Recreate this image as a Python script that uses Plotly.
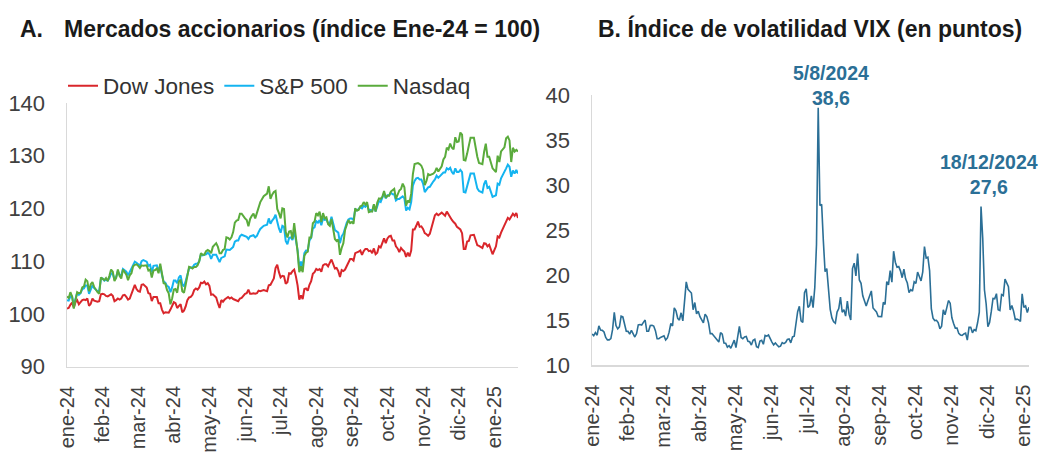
import pandas as pd
import plotly.graph_objects as go

# ---------------- data ----------------
holidays = ["2024-02-19", "2024-03-29", "2024-05-27", "2024-06-19", "2024-07-04",
            "2024-09-02", "2024-11-28", "2024-12-25", "2025-01-01", "2025-01-09",
            "2025-01-20"]
weekdays = pd.bdate_range("2024-01-25", "2025-01-31")
trading = weekdays[~weekdays.isin(pd.to_datetime(holidays))]

month_abbr = ["ene", "feb", "mar", "abr", "may", "jun", "jul", "ago", "sep", "oct", "nov", "dic"]

# Índices (Ene-24 = 100), one value per trading day
dow = [
    101.0, 101.1, 101.7, 102.1, 101.2,
    102.2, 102.6, 101.8, 102.2, 102.6, 102.7, 102.6, 102.9, 101.5, 101.9, 102.9, 102.5, 102.3, 102.4, 103.7, 103.8, 103.7, 103.4, 103.3, 103.5,
    103.7, 103.4, 102.4, 102.6, 102.9, 102.7, 102.9, 103.5, 103.6, 103.2, 102.7, 102.9, 103.8, 104.8, 105.5, 104.7, 104.3, 104.2, 105.5, 105.6,
    105.0, 103.9, 103.8, 102.4, 103.2, 103.2, 103.2, 102.0, 102.0, 100.8, 100.1, 100.3, 100.2, 100.2, 100.8, 101.5, 102.2, 102.0, 101.1, 101.5, 101.8, 100.3,
    100.6, 101.4, 102.6, 103.1, 103.2, 103.6, 104.5, 104.8, 104.6, 105.0, 105.9, 105.8, 106.1, 105.6, 105.8, 105.3, 103.6, 103.7, 103.1, 102.0, 101.1, 102.6,
    102.3, 102.7, 103.0, 103.2, 102.9, 103.1, 102.8, 102.7, 102.5, 102.4, 102.9, 103.0, 103.8, 103.9, 104.6, 103.8, 103.8, 103.9, 103.8,
    103.9, 104.4, 104.3, 104.5, 104.4, 104.3, 105.4, 105.5, 106.1, 106.7, 108.7, 109.3, 107.9, 106.9, 107.2, 107.1, 105.7, 106.0, 107.7, 107.6, 108.1, 108.4,
    107.1, 105.4, 102.7, 103.5, 102.8, 104.7, 104.8, 104.4, 105.5, 106.2, 107.6, 107.9, 108.5, 108.3, 108.5, 108.0, 109.2, 109.4, 109.4, 109.0, 109.7, 110.3,
    108.6, 108.7, 108.1, 107.0, 108.3, 108.1, 108.4, 109.0, 109.8, 110.4, 110.4, 110.1, 111.5, 111.6, 111.8, 112.0, 111.2, 111.9, 112.3, 112.3,
    111.9, 112.0, 111.5, 112.4, 111.3, 111.6, 112.8, 112.6, 113.7, 114.3, 113.4, 114.3, 114.7, 114.8, 113.9, 113.9, 112.8, 112.4, 111.7, 112.5, 112.1, 111.8, 110.8,
    111.6, 110.9, 112.0, 116.0, 116.0, 116.7, 117.5, 116.5, 116.6, 116.1, 115.3, 115.1, 114.8, 115.2, 116.4, 117.5, 118.7, 119.0, 118.7, 119.2,
    118.8, 118.6, 119.4, 118.8, 118.4, 117.8, 117.4, 117.1, 116.5, 116.3, 116.0, 115.3, 112.3, 112.3, 113.7, 113.8, 114.9, 115.0, 114.1, 113.0, 112.9,
    112.5, 113.4, 113.3, 112.8, 113.1, 111.3, 112.2, 112.8, 114.7, 114.5, 115.4, 116.8, 117.2, 118.2, 117.9, 118.6, 119.0, 118.6, 119.1, 118.2,
]

sp500 = [
    102.6, 102.5, 103.3, 103.3, 101.6,
    102.9, 104.0, 103.6, 103.9, 104.7, 104.8, 105.4, 105.3, 103.8, 104.8, 105.4, 104.9, 104.3, 104.4, 106.6, 106.7, 106.3, 106.5, 106.3, 106.8,
    107.7, 107.6, 106.5, 107.0, 108.1, 107.4, 107.3, 108.5, 108.3, 108.0, 107.3, 108.0, 108.6, 109.5, 109.9, 109.7, 109.4, 109.1, 110.0, 110.2,
    109.9, 109.1, 109.3, 107.9, 109.1, 109.1, 109.2, 108.2, 109.0, 107.4, 106.1, 105.9, 105.3, 105.1, 104.1, 105.0, 106.3, 106.3, 105.8, 106.9, 107.3, 105.6,
    105.2, 106.2, 107.5, 108.6, 108.8, 108.8, 109.3, 109.5, 109.5, 110.0, 111.3, 111.1, 111.2, 111.3, 111.6, 111.3, 110.4, 111.2, 111.2, 110.4, 109.8, 110.6,
    110.8, 110.9, 112.2, 112.2, 112.1, 112.4, 112.7, 113.7, 113.9, 113.9, 114.7, 115.0, 114.7, 114.6, 114.2, 114.7, 114.8, 114.9, 114.5,
    114.8, 115.5, 116.1, 116.7, 116.8, 116.9, 118.1, 117.1, 117.7, 118.1, 118.8, 117.2, 116.2, 115.4, 116.7, 116.5, 113.8, 113.2, 114.4, 114.5, 114.0, 115.8,
    114.2, 112.1, 108.7, 109.9, 109.0, 111.5, 112.0, 112.0, 113.9, 114.4, 116.2, 116.4, 117.6, 117.3, 117.8, 116.8, 118.1, 117.8, 117.9, 117.2, 117.2, 118.4,
    115.9, 115.7, 115.4, 113.4, 114.7, 115.2, 116.4, 117.3, 117.9, 118.1, 118.1, 117.8, 119.8, 119.6, 119.9, 120.2, 120.0, 120.5, 120.3, 120.8,
    119.7, 119.7, 119.5, 120.6, 119.4, 120.6, 121.4, 121.2, 121.9, 122.9, 121.9, 122.5, 122.5, 123.0, 122.7, 122.7, 121.5, 121.8, 121.8, 122.1, 122.3, 121.9, 119.6,
    120.1, 119.8, 121.2, 124.3, 125.2, 125.7, 125.8, 125.5, 125.5, 124.7, 123.1, 123.6, 124.0, 124.1, 124.7, 125.1, 125.5, 126.2, 125.8, 126.5,
    126.8, 126.8, 127.6, 127.4, 127.7, 126.9, 126.5, 127.6, 126.9, 126.9, 127.3, 126.9, 123.1, 123.0, 124.3, 125.2, 126.6, 126.6, 125.2, 123.8, 123.3,
    123.0, 124.6, 125.3, 123.9, 124.1, 122.2, 122.4, 122.5, 124.7, 124.5, 125.7, 126.8, 127.6, 128.3, 127.9, 126.0, 127.2, 126.6, 127.3, 126.6,
]

nasdaq = [
    103.3, 103.0, 104.1, 103.3, 101.0,
    102.3, 104.1, 103.9, 104.0, 105.0, 105.2, 106.5, 106.2, 104.3, 105.6, 106.0, 105.1, 104.1, 103.8, 106.9, 106.6, 106.4, 106.8, 106.2, 107.2,
    108.4, 108.0, 106.2, 106.8, 108.4, 107.2, 106.7, 108.4, 107.8, 107.4, 106.4, 107.3, 107.7, 109.0, 109.3, 109.4, 109.1, 108.7, 109.2, 109.1,
    109.2, 108.2, 108.4, 106.9, 108.2, 108.3, 108.6, 107.7, 109.5, 107.8, 105.8, 105.7, 104.5, 103.9, 101.8, 102.9, 104.6, 104.7, 104.0, 106.1, 106.5, 104.3,
    104.0, 105.5, 107.6, 108.9, 108.8, 108.6, 108.9, 108.9, 109.2, 110.0, 111.5, 111.2, 111.2, 111.9, 112.1, 111.9, 111.5, 112.7, 113.4, 112.7, 111.5, 111.5,
    112.1, 112.3, 114.5, 114.4, 114.1, 114.5, 115.5, 117.3, 117.7, 117.8, 119.0, 119.0, 118.1, 117.8, 116.6, 118.0, 118.6, 119.0, 118.1,
    119.1, 120.1, 121.2, 122.3, 122.6, 122.8, 124.2, 121.8, 122.6, 123.1, 123.3, 119.9, 119.1, 118.1, 120.0, 119.9, 115.5, 114.5, 115.6, 115.7, 114.2, 117.2,
    114.5, 111.8, 107.9, 109.0, 107.9, 111.0, 111.6, 111.8, 114.5, 114.5, 117.2, 117.5, 119.1, 118.7, 119.4, 117.4, 119.1, 118.1, 118.3, 117.0, 116.7, 118.0,
    114.2, 113.8, 114.1, 111.2, 112.5, 113.4, 115.9, 117.0, 117.8, 117.2, 117.4, 117.1, 120.0, 119.6, 119.7, 120.4, 120.5, 121.2, 120.7, 121.2,
    119.3, 119.4, 119.4, 120.8, 119.4, 121.1, 121.9, 121.8, 122.2, 123.3, 122.0, 122.4, 122.4, 123.2, 123.5, 123.7, 121.8, 122.7, 123.4, 123.7, 124.7, 124.0, 120.5,
    121.5, 121.1, 122.8, 126.5, 128.4, 128.5, 128.6, 128.4, 128.1, 127.3, 124.4, 125.2, 126.5, 126.3, 126.4, 126.6, 126.9, 127.7, 127.0, 128.0,
    129.3, 129.8, 131.5, 131.2, 132.3, 131.5, 131.2, 133.5, 132.6, 132.7, 134.4, 134.0, 129.2, 129.1, 130.4, 131.7, 133.4, 133.4, 131.4, 129.8, 128.6,
    128.4, 130.7, 132.3, 129.8, 129.8, 127.6, 127.2, 126.9, 130.0, 128.8, 130.8, 131.6, 133.3, 133.6, 132.9, 128.8, 131.5, 130.8, 131.1, 130.8,
]

# VIX (puntos)
vix = [
    13.45, 13.26, 13.60, 13.31, 14.35,
    13.88, 13.85, 13.67, 13.06, 12.79, 12.79, 12.93, 13.93, 15.85, 14.38, 14.01, 14.24, 15.42, 15.34, 14.54, 13.75, 13.74, 13.43, 13.84, 13.40,
    13.11, 13.49, 14.46, 14.50, 14.44, 14.74, 15.00, 13.75, 13.75, 14.40, 14.41, 14.33, 13.82, 12.92, 12.92, 13.06, 13.19, 13.24, 12.78, 13.01,
    13.65, 14.61, 14.33, 16.35, 16.03, 15.19, 14.98, 15.80, 14.91, 17.31, 19.23, 18.40, 18.21, 18.00, 16.14, 16.94, 15.69, 15.97, 15.37, 15.03, 14.67, 15.65,
    15.39, 14.68, 13.49, 13.49, 13.23, 13.00, 12.69, 12.55, 13.60, 13.42, 12.45, 12.42, 11.99, 12.15, 11.86, 12.29, 12.77, 11.93, 12.92, 14.28, 13.06, 12.92,
    13.11, 13.16, 12.63, 12.58, 12.22, 12.74, 12.85, 12.04, 11.94, 12.66, 12.75, 12.30, 13.28, 13.20, 13.33, 12.84, 12.55, 12.24, 12.44,
    12.22, 12.03, 12.09, 12.48, 12.37, 12.51, 12.85, 12.89, 12.46, 13.12, 13.19, 14.48, 15.93, 16.52, 14.91, 14.72, 18.04, 18.46, 16.39, 16.60, 17.69, 16.36,
    18.59, 23.39, 38.57, 27.71, 27.85, 23.79, 20.37, 20.71, 18.12, 16.19, 15.23, 14.80, 14.65, 15.88, 16.27, 17.55, 15.86, 16.15, 15.43, 17.11, 15.65, 15.00,
    20.72, 21.32, 19.90, 22.38, 19.45, 19.08, 17.69, 17.07, 16.56, 17.14, 17.61, 18.23, 16.33, 16.15, 15.89, 15.39, 15.41, 15.37, 16.96, 16.73,
    19.26, 18.90, 20.49, 19.21, 22.64, 21.42, 20.86, 20.93, 20.46, 19.70, 20.64, 19.58, 19.11, 18.03, 18.37, 18.20, 19.24, 19.08, 20.33, 19.80, 19.34, 20.35, 23.16,
    21.88, 21.98, 20.49, 16.27, 15.20, 14.94, 14.97, 14.71, 14.02, 14.31, 16.14, 15.58, 16.35, 17.16, 16.87, 15.24, 14.60, 14.10, 14.10, 13.51,
    13.34, 13.30, 13.45, 13.54, 12.77, 14.19, 14.18, 13.58, 13.92, 13.81, 14.69, 15.87, 27.62, 24.09, 18.36, 16.78, 14.27, 14.73, 15.95, 17.40, 17.35,
    17.93, 16.13, 16.04, 17.82, 17.70, 19.54, 19.19, 18.71, 16.12, 16.60, 15.97, 15.06, 15.10, 15.02, 14.85, 17.90, 16.41, 16.56, 15.84, 16.43,
]

for name, s in [("dow", dow), ("sp500", sp500), ("nasdaq", nasdaq), ("vix", vix)]:
    assert len(s) == len(trading), (name, len(s), len(trading))

# ---------------- helpers ----------------
def ds(d):
    return d.strftime("%Y-%m-%d")

def mlabel(d):
    return f"{month_abbr[d.month - 1]}-{d.strftime('%y')}"

wd_str = [ds(d) for d in weekdays]
td_str = [ds(d) for d in trading]
left_ticks = list(weekdays[::21])
right_ticks = list(trading[::21])

W, H = 1039, 454
FONT = "Liberation Sans, Arial, sans-serif"
TXT = "#404040"
AXC = "#d9d9d9"
VIXC = "#2b6f96"

def px_x(p):
    return p / W

def px_y(p):
    return 1 - p / H

fig = go.Figure()
fig.add_trace(go.Scatter(x=td_str, y=dow, name="Dow Jones", mode="lines",
                         line=dict(color="#d9262b", width=2), xaxis="x", yaxis="y"))
fig.add_trace(go.Scatter(x=td_str, y=sp500, name="S&P 500", mode="lines",
                         line=dict(color="#14b4f0", width=2), xaxis="x", yaxis="y"))
fig.add_trace(go.Scatter(x=td_str, y=nasdaq, name="Nasdaq", mode="lines",
                         line=dict(color="#5aab3c", width=2), xaxis="x", yaxis="y"))
fig.add_trace(go.Scatter(x=td_str, y=vix, name="VIX", mode="lines", showlegend=False,
                         line=dict(color=VIXC, width=1.6), xaxis="x2", yaxis="y2"))

common_x = dict(type="category", categoryorder="array", tickmode="array", tickangle=-90,
                showline=True, linecolor=AXC, linewidth=1.5, showgrid=False, zeroline=False,
                ticks="", ticklabelstandoff=10, automargin=False,
                tickfont=dict(family=FONT, size=20, color=TXT))
common_y = dict(showline=True, linecolor=AXC, linewidth=1.5, showgrid=False, zeroline=False,
                ticks="", ticklabelstandoff=16, automargin=False,
                tickfont=dict(family=FONT, size=22, color=TXT))

fig.update_layout(
    width=W, height=H, template="none",
    paper_bgcolor="white", plot_bgcolor="white",
    margin=dict(l=0, r=0, t=0, b=0),
    hovermode=False,
    xaxis=dict(domain=[px_x(67), px_x(518)], anchor="y", categoryarray=wd_str,
               range=[0, len(wd_str) - 1],
               tickvals=[ds(d) for d in left_ticks], ticktext=[mlabel(d) for d in left_ticks],
               **common_x),
    yaxis=dict(domain=[px_y(366.5), px_y(103)], anchor="x", range=[90, 140], dtick=10, **common_y),
    xaxis2=dict(domain=[px_x(592), px_x(1029)], anchor="y2", categoryarray=td_str,
                range=[0, len(td_str) - 1],
                tickvals=[ds(d) for d in right_ticks], ticktext=[mlabel(d) for d in right_ticks],
                **common_x),
    yaxis2=dict(domain=[px_y(365), px_y(95)], anchor="x2", range=[10, 40], dtick=5, **common_y),
    legend=dict(orientation="h", x=px_x(63), y=px_y(86), xanchor="left", yanchor="middle",
                font=dict(family=FONT, size=22.5, color="#333333"), itemwidth=30,
                bgcolor="rgba(0,0,0,0)", traceorder="normal"),
    showlegend=True,
)

# Titles
title_font = dict(family=FONT, size=23, color="#1a1a1a")
fig.add_annotation(text="<b>A.</b>", x=px_x(18), y=px_y(29), xref="paper", yref="paper",
                   xanchor="left", yanchor="middle", showarrow=False, font=title_font)
fig.add_annotation(text="<b>Mercados accionarios (índice Ene-24 = 100)</b>", x=px_x(62), y=px_y(29),
                   xref="paper", yref="paper", xanchor="left", yanchor="middle",
                   showarrow=False, font=title_font)
fig.add_annotation(text="<b>B. Índice de volatilidad VIX (en puntos)</b>", x=px_x(596), y=px_y(29),
                   xref="paper", yref="paper", xanchor="left", yanchor="middle",
                   showarrow=False, font=title_font)

# Peak labels
def peak_label(start, end, xshift, yshift):
    idx = [i for i, d in enumerate(trading) if pd.Timestamp(start) <= d <= pd.Timestamp(end)]
    i = max(idx, key=lambda k: vix[k])
    d = trading[i]
    txt = f"<b>{d.day}/{d.month}/{d.year}<br>{vix[i]:.1f}</b>".replace(".", ",")
    fig.add_annotation(text=txt, x=td_str[i], y=vix[i], xref="x2", yref="y2",
                       xanchor="center", yanchor="bottom", showarrow=False,
                       xshift=xshift, yshift=yshift,
                       font=dict(family=FONT, size=19.5, color=VIXC))

peak_label("2024-07-01", "2024-09-30", 13, -3)
peak_label("2024-12-01", "2024-12-31", 8, 6)

# remove the default page margin so the figure sits at the window's top-left corner
page_css = ("document.body.style.margin='0';"
            "document.body.style.overflow='hidden';"
            "document.documentElement.style.overflow='hidden';")
fig.write_html("out.html", post_script=page_css,
               config={"displayModeBar": False, "staticPlot": True})
